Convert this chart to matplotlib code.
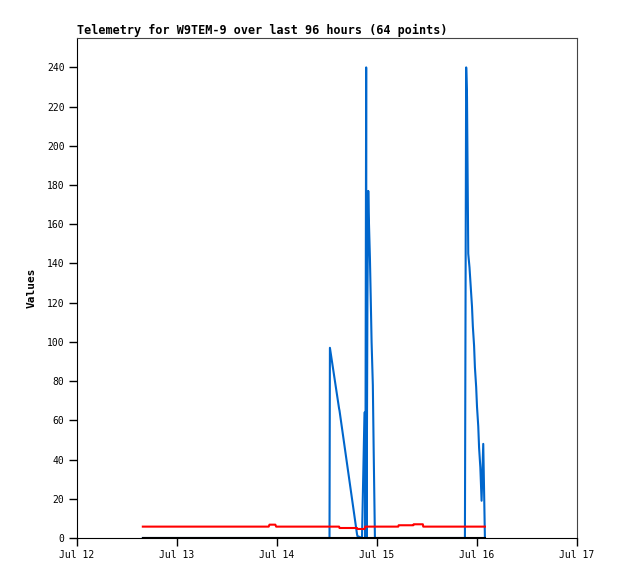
import datetime as dt
import matplotlib
matplotlib.use("Agg")
import matplotlib.pyplot as plt
import matplotlib.dates as mdates

# hours since Jul 12 00:00
hours = [15.8, 30.0, 46.0, 46.2, 47.6, 47.8, 48.5, 60.0, 60.6, 60.7,
         62.9, 63.0, 67.2, 67.3, 68.4, 69.0, 69.2, 69.4, 69.5, 69.7,
         69.9, 70.0, 70.3, 70.5, 70.7, 71.0, 71.2, 71.5, 77.1, 77.2,
         80.7, 80.8, 83.0, 83.1, 93.1, 93.4, 93.6, 93.9, 94.2, 94.5,
         94.8, 95.0, 95.3, 95.5, 95.8, 96.0, 96.3, 96.5, 96.8, 97.1,
         97.5, 97.9]
blue = [0, 0, 0, 0, 0, 0, 0, 0, 0, 97,
        66, 65, 2, 1, 0, 64, 0, 240, 0, 121,
        177, 166, 143, 122, 100, 78, 45, 0, 0, 0,
        0, 0, 0, 0, 0, 240, 225, 145, 138, 128,
        118, 108, 98, 87, 77, 67, 57, 46, 36, 19,
        48, 0]
red = [5.8, 5.8, 5.8, 6.8, 6.8, 5.8, 5.8, 5.8, 5.8, 5.8,
       5.8, 5.1, 5.1, 4.6, 4.6, 4.6, 5.8, 5.8, 5.8, 5.8,
       5.8, 5.8, 5.8, 5.8, 5.8, 5.8, 5.8, 5.8, 5.8, 6.5,
       6.5, 7.0, 7.0, 5.8, 5.8, 5.8, 5.8, 5.8, 5.8, 5.8,
       5.8, 5.8, 5.8, 5.8, 5.8, 5.8, 5.8, 5.8, 5.8, 5.8,
       5.8, 5.8]
black = [0] * len(hours)

start = dt.datetime(2024, 7, 12)
times = [start + dt.timedelta(hours=h) for h in hours]

plt.rcParams['font.family'] = ['DejaVu Sans Mono']

fig = plt.figure(figsize=(6.18, 5.79), dpi=100)
ax = fig.add_axes([77/618, 41/579, 500/618, 500/579])

ax.plot(times, blue, color='#0066cc', lw=1.5)
ax.plot(times, red, color='#ff0000', lw=1.5)
ax.plot(times, black, color='#000000', lw=1.5)

ax.set_xlim(start, start + dt.timedelta(days=5))
ax.set_ylim(0, 255)
ax.set_yticks(range(0, 241, 20))
ax.xaxis.set_major_locator(mdates.DayLocator())
ax.xaxis.set_major_formatter(mdates.DateFormatter('%b %d'))

ax.tick_params(direction='out', length=6, width=1, labelsize=7, pad=3)
for s in ['top', 'right']:
    ax.spines[s].set_color('#444444')
for s in ['left', 'bottom']:
    ax.spines[s].set_color('black')

ax.set_ylabel('Values', fontsize=8, fontweight='bold', labelpad=7)
ax.set_title('Telemetry for W9TEM-9 over last 96 hours (64 points)',
             loc='left', fontsize=8.5, fontweight='bold', pad=3)

fig.savefig('out.png', dpi=100)
